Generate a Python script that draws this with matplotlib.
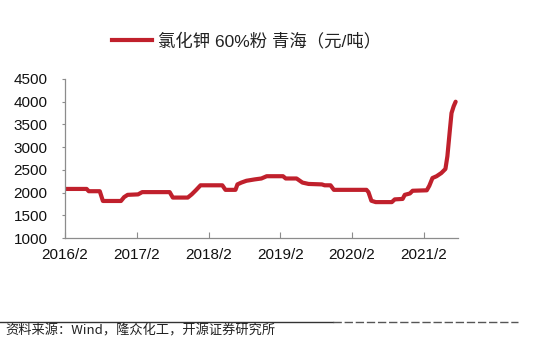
import matplotlib
matplotlib.use("Agg")
import matplotlib.pyplot as plt
from matplotlib.lines import Line2D
import pandas as pd

plt.rcParams['font.family'] = ['Liberation Sans', 'Noto Sans CJK SC', 'DejaVu Sans']

series_name = "氯化钾 60%粉 青海（元/吨）"
dates = [
    "2016-02-01", "2016-05-21", "2016-06-01", "2016-07-27", "2016-08-12", "2016-11-12",
    "2016-11-28", "2016-12-16", "2017-02-07", "2017-02-28", "2017-07-18", "2017-08-03",
    "2017-10-18", "2017-11-07", "2017-11-28", "2017-12-22", "2018-04-12", "2018-04-28",
    "2018-06-18", "2018-06-28", "2018-07-18", "2018-08-13", "2018-09-24", "2018-10-28",
    "2018-11-24", "2019-02-15", "2019-03-01", "2019-04-25", "2019-05-25", "2019-06-25",
    "2019-09-01", "2019-09-15", "2019-10-15", "2019-11-01", "2020-04-15", "2020-04-25",
    "2020-05-10", "2020-06-01", "2020-08-22", "2020-09-06", "2020-10-16", "2020-10-27",
    "2020-11-22", "2020-12-06", "2021-02-16", "2021-03-01", "2021-03-17", "2021-04-07",
    "2021-05-01", "2021-05-22", "2021-06-01", "2021-06-13", "2021-06-22", "2021-07-03",
    "2021-07-13",
]
values = [
    2080, 2080, 2030, 2030, 1815, 1815,
    1900, 1950, 1960, 2010, 2010, 1890,
    1890, 1960, 2050, 2160, 2160, 2060,
    2060, 2180, 2220, 2260, 2290, 2310,
    2360, 2360, 2310, 2310, 2220, 2190,
    2180, 2160, 2160, 2060, 2060, 2010,
    1820, 1790, 1790, 1850, 1860, 1950,
    1980, 2040, 2050, 2150, 2320, 2360,
    2430, 2520, 2800, 3350, 3750, 3900,
    4000,
]
tick_dates = ["2016-02-01", "2017-02-01", "2018-02-01", "2019-02-01", "2020-02-01", "2021-02-01"]
tick_labels = ["2016/2", "2017/2", "2018/2", "2019/2", "2020/2", "2021/2"]
y_ticks = [1000, 1500, 2000, 2500, 3000, 3500, 4000, 4500]
source_text = "资料来源：Wind，隆众化工，开源证券研究所"

W, H = 549, 338
fig = plt.figure(figsize=(W / 100, H / 100), dpi=100)
ax = fig.add_axes([65 / W, 1 - 238 / H, (458 - 65) / W, (238 - 79) / H])

x = pd.to_datetime(dates)
red = "#C0202C"
ax.plot(x, values, color=red, lw=3.0, solid_capstyle='round', solid_joinstyle='round',
        label=series_name)

ax.set_xlim(pd.Timestamp("2016-02-01"), pd.Timestamp("2021-07-25"))
ax.set_ylim(1000, 4500)
ax.set_yticks(y_ticks)
ax.set_xticks(pd.to_datetime(tick_dates))
ax.set_xticklabels(tick_labels)

for s in ["top", "right"]:
    ax.spines[s].set_visible(False)
for s in ["left", "bottom"]:
    ax.spines[s].set_color("#8c8c8c")
    ax.spines[s].set_linewidth(0.9)

ax.tick_params(axis='y', direction='out', length=2.5, width=0.8, color="#8c8c8c",
               labelsize=11, pad=10, labelcolor="#111111")
ax.tick_params(axis='x', direction='in', length=4, width=0.8, color="#8c8c8c",
               labelsize=11, pad=7, labelcolor="#111111")

leg = fig.legend(handles=[Line2D([0], [0], color=red, lw=3.0)], labels=[series_name],
                 loc='center left', bbox_to_anchor=(112 / W, 1 - 41 / H),
                 frameon=False, borderpad=0, borderaxespad=0,
                 handlelength=2.3, handletextpad=0.35,
                 prop={'size': 12.5, 'family': ['Liberation Sans', 'Noto Sans CJK SC']})
for t in leg.get_texts():
    t.set_color("#222222")

# bottom source line and source text
fig.add_artist(Line2D([0, 333 / W], [1 - 322 / H, 1 - 322 / H], color="#333333", lw=1.0,
                      transform=fig.transFigure))
fig.add_artist(Line2D([333 / W, 518 / W], [1 - 322 / H, 1 - 322 / H], color="#555555",
                      lw=1.0, ls=(0, (6, 2)), transform=fig.transFigure))
fig.text(5 / W, 1 - 337 / H, source_text, fontsize=9.5, va='bottom', ha='left',
         color="#222222", family=['Noto Sans CJK SC', 'DejaVu Sans'])

fig.savefig("out.png", dpi=100)
